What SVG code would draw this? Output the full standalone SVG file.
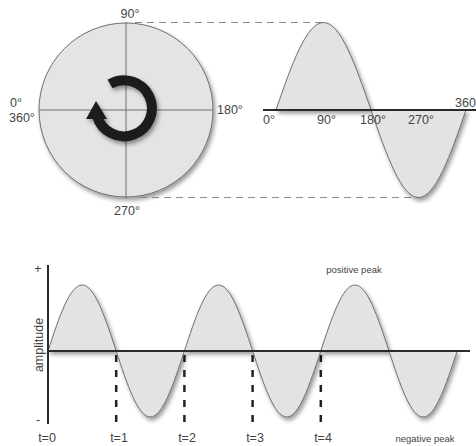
<svg xmlns="http://www.w3.org/2000/svg" width="476" height="446" viewBox="0 0 476 446">
<defs>
<filter id="sh" x="-20%" y="-20%" width="150%" height="150%">
<feDropShadow dx="2" dy="3" stdDeviation="2" flood-color="#000" flood-opacity="0.4"/>
</filter>
<style>
text{font-family:"Liberation Sans",Arial,sans-serif;fill:#444;font-size:12.5px}
.sm{font-size:9.5px}
.lobe{fill:#e3e3e3;stroke:#6e6e6e;stroke-width:1;filter:url(#sh)}
.thin{stroke:#6e6e6e;stroke-width:1;fill:none}
.gdash{stroke:#8a8a8a;stroke-width:1;stroke-dasharray:7 5;fill:none}
.axis{stroke:#2a2a2a;stroke-width:2;fill:none}
.bdash{stroke:#222;stroke-width:2.5;stroke-dasharray:7 8;fill:none}
</style>
</defs>
<rect width="476" height="446" fill="#fff"/>

<g id="phasor">
<circle cx="126" cy="110" r="87" fill="#e4e4e4" stroke="#6e6e6e" stroke-width="1" filter="url(#sh)"/>
<line class="thin" x1="126" y1="22" x2="126" y2="198"/>
<line class="thin" x1="39" y1="110" x2="213" y2="110"/>
<g id="rotation-arrow" filter="url(#sh)">
<path d="M110 84 A28 28 0 1 1 97 116" fill="none" stroke="#1e1e1e" stroke-width="10"/>
<polygon points="96,101 86,119 107,119" fill="#1e1e1e"/>
</g>
<text x="130" y="18" text-anchor="middle">90°</text>
<text x="10" y="107">0°</text>
<text x="9" y="122">360°</text>
<text x="217" y="114">180°</text>
<text x="127" y="215" text-anchor="middle">270°</text>
</g>

<g id="connectors">
<line class="gdash" x1="135" y1="22.5" x2="322" y2="22.5"/>
<line class="gdash" x1="140" y1="197.5" x2="418" y2="197.5"/>
<line class="bdash" x1="116.2" y1="355" x2="116.2" y2="423"/>
<line class="bdash" x1="184.4" y1="355" x2="184.4" y2="423"/>
<line class="bdash" x1="252.6" y1="355" x2="252.6" y2="423"/>
<line class="bdash" x1="320.8" y1="355" x2="320.8" y2="423"/>
</g>

<g id="cycle-wave">
<path class="lobe" d="M276,110 C291.49,65.17 306.31,22.5 323.5,22.5 C340.69,22.5 355.51,65.17 371,110 Z"/>
<path class="lobe" d="M371,110 C386.49,154.83 401.31,197.5 418.5,197.5 C435.69,197.5 450.51,154.83 466,110 Z"/>
<line class="axis" x1="263" y1="110" x2="476" y2="110"/>
<text x="263" y="124">0°</text>
<text x="317" y="124">90°</text>
<text x="360" y="124">180°</text>
<text x="408" y="124">270°</text>
<text x="455" y="107">360</text>
</g>

<g id="time-wave">
<path class="lobe" d="M48,351 C59.12,317.2 69.76,285 82.1,285 C94.44,285 105.08,317.2 116.2,351 Z"/>
<path class="lobe" d="M116.2,351 C127.32,384.8 137.96,417 150.3,417 C162.64,417 173.28,384.8 184.4,351 Z"/>
<path class="lobe" d="M184.4,351 C195.52,317.2 206.16,285 218.5,285 C230.84,285 241.48,317.2 252.6,351 Z"/>
<path class="lobe" d="M252.6,351 C263.72,384.8 274.36,417 286.7,417 C299.04,417 309.68,384.8 320.8,351 Z"/>
<path class="lobe" d="M320.8,351 C331.92,317.2 342.56,285 354.9,285 C367.24,285 377.88,317.2 389,351 Z"/>
<path class="lobe" d="M389,351 C400.12,384.8 410.76,417 423.1,417 C435.44,417 446.08,384.8 457.2,351 Z"/>
<line class="axis" x1="48" y1="265" x2="48" y2="424"/>
<line class="axis" x1="48" y1="351" x2="470" y2="351"/>
<text x="38" y="273" text-anchor="middle" font-size="11">+</text>
<text x="38" y="424" text-anchor="middle" font-size="11">-</text>
<text transform="translate(43,345) rotate(-90)" text-anchor="middle" font-size="13">amplitude</text>
<text x="354" y="273" text-anchor="middle" class="sm">positive peak</text>
<text x="425" y="442" text-anchor="middle" class="sm">negative peak</text>
<text x="47" y="442" text-anchor="middle" font-size="13">t=0</text>
<text x="119" y="442" text-anchor="middle" font-size="13">t=1</text>
<text x="187" y="442" text-anchor="middle" font-size="13">t=2</text>
<text x="255" y="442" text-anchor="middle" font-size="13">t=3</text>
<text x="323" y="442" text-anchor="middle" font-size="13">t=4</text>
</g>
</svg>
